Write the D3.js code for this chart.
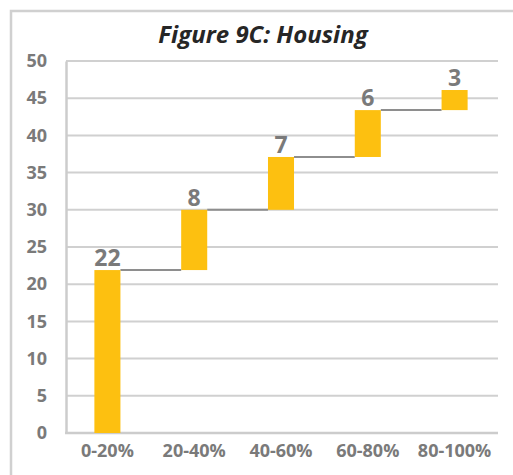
<html>
  <head>
    <script src="https://cdn.jsdelivr.net/npm/d3@7"></script>
    <style>
      body { margin: 0; background: #fff; }
      text { font-family: "Open Sans", sans-serif; }
    </style>
  </head>
  <body>
    <svg id=chart width=513 height=475></svg>
    <script>
      // waterfall: each bar is one quintile's share added on top of the previous ones
      var categories = ["0-20%", "20-40%", "40-60%", "60-80%", "80-100%"];
      var deltas = [21.9, 8.1, 7.1, 6.3, 2.7];
      var yTicks = [0, 5, 10, 15, 20, 25, 30, 35, 40, 45, 50];

      var svg = d3.select("#chart");

      // outer frame (runs off right/bottom edge like the crop)
      svg.append("rect")
        .attr("x", 11).attr("y", 11)
        .attr("width", 520).attr("height", 480)
        .attr("fill", "none")
        .attr("stroke", "#d0d0d0")
        .attr("stroke-width", 2.5);

      svg.append("text")
        .attr("x", 263).attr("y", 43)
        .attr("text-anchor", "middle")
        .attr("font-size", 24)
        .attr("font-weight", "bold")
        .attr("font-style", "italic")
        .attr("fill", "#262626")
        .text("Figure 9C: Housing");

      var x = d3.scaleBand().domain(categories).range([64, 498]).paddingInner(0.7).paddingOuter(0.35);
      var y = d3.scaleLinear().domain([0, 50]).range([433, 61]);

      var data = [];
      var run = 0;
      deltas.forEach(function(v, i) {
        data.push({ cat: categories[i], start: run, end: run + v, v: v });
        run += v;
      });

      // gridlines
      svg.append("g")
        .selectAll("line")
        .data(yTicks.filter(function(t) { return t > 0; }))
        .join("line")
        .attr("x1", 66).attr("x2", 498)
        .attr("y1", function(d) { return y(d); })
        .attr("y2", function(d) { return y(d); })
        .attr("stroke", "#d0d0d0")
        .attr("stroke-width", 2);

      // y axis
      var yAxis = svg.append("g")
        .attr("transform", "translate(66,0)")
        .call(d3.axisLeft(y).tickValues(yTicks).tickSize(0).tickPadding(19));
      yAxis.select(".domain").attr("stroke", "#cccccc").attr("stroke-width", 2.5);
      yAxis.selectAll("text")
        .attr("font-family", "Open Sans")
        .attr("font-size", 18)
        .attr("font-weight", "bold")
        .attr("fill", "#7a7a7a");

      // x axis
      var xAxis = svg.append("g")
        .attr("transform", "translate(0,433)")
        .call(d3.axisBottom(x).tickSize(0).tickPadding(11));
      xAxis.select(".domain").attr("d", "M65,0H498").attr("stroke", "#cccccc").attr("stroke-width", 2.5);
      xAxis.selectAll("text")
        .attr("font-family", "Open Sans")
        .attr("font-size", 18)
        .attr("font-weight", "bold")
        .attr("fill", "#7a7a7a");

      // connectors
      svg.append("g")
        .selectAll("line")
        .data(data.slice(0, -1))
        .join("line")
        .attr("x1", function(d) { return x(d.cat) + x.bandwidth(); })
        .attr("x2", function(d, i) { return x(categories[i + 1]); })
        .attr("y1", function(d) { return y(d.end); })
        .attr("y2", function(d) { return y(d.end); })
        .attr("stroke", "#8e8e8e")
        .attr("stroke-width", 2);

      svg.append("g")
        .selectAll("rect")
        .data(data)
        .join("rect")
        .attr("x", function(d) { return x(d.cat); })
        .attr("width", x.bandwidth())
        .attr("y", function(d) { return y(d.end); })
        .attr("height", function(d) { return y(d.start) - y(d.end); })
        .attr("fill", "#fdc010");

      svg.append("g")
        .selectAll("text")
        .data(data)
        .join("text")
        .attr("x", function(d) { return x(d.cat) + x.bandwidth() / 2; })
        .attr("y", function(d) { return y(d.end) - 4; })
        .attr("text-anchor", "middle")
        .attr("font-size", 23)
        .attr("font-weight", "bold")
        .attr("fill", "#7a7a7a")
        .text(function(d) { return d3.format(".0f")(d.v); });
    </script>
  </body>
</html>
